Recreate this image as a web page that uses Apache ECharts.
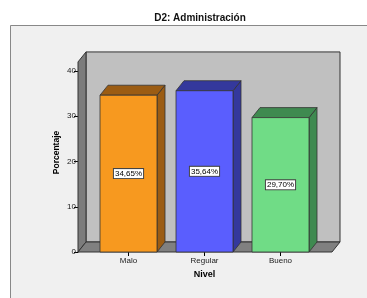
<!DOCTYPE html>
<html>
<head>
<meta charset="utf-8">
<script src="https://cdn.jsdelivr.net/npm/echarts@6/dist/echarts.min.js"></script>
<style>
  html, body { margin: 0; padding: 0; background: #fff; }
  #chart { width: 367px; height: 298px; }
</style>
</head>
<body>
<div id="chart"></div>
<script>
const categories = ["Malo", "Regular", "Bueno"]
const values = [34.65, 35.64, 29.7]
const valueLabels = ["34,65%", "35,64%", "29,70%"]
const yTicks = [0, 10, 20, 30, 40]

// front / dark face colours for each bar
const frontColors = ["#f7991f", "#5a5efe", "#70dc86"]
const sideColors = ["#9b5c13", "#34389c", "#3f8a50"]

const DX = 8   // depth offset
const DY = 10
const BAR_W = 57
const WALL_TOP = 42
const FONT = "'Liberation Sans', Arial, sans-serif"

const chart = echarts.init(document.getElementById("chart"), null, { renderer: "canvas" })

function renderWalls(params, api) {
  const cs = params.coordSys
  const L = cs.x - 12.5
  const R = cs.x + cs.width + 13.5
  const base = cs.y + cs.height
  const top = cs.y - (WALL_TOP - yTicks[yTicks.length - 1]) * cs.height / yTicks[yTicks.length - 1]
  const edge = { stroke: "#333", lineWidth: 1 }
  return {
    type: "group",
    children: [
      {
        type: "rect",
        shape: { x: L + DX, y: top - DY, width: R - L, height: base - top },
        style: Object.assign({ fill: "#c0c0c0" }, edge),
      },
      {
        type: "polygon",
        shape: { points: [[L, top], [L + DX, top - DY], [L + DX, base - DY], [L, base]] },
        style: Object.assign({ fill: "#7c7c7c" }, edge),
      },
      {
        type: "polygon",
        shape: { points: [[L, base], [L + DX, base - DY], [R + DX, base - DY], [R, base]] },
        style: Object.assign({ fill: "#808080" }, edge),
      },
    ],
  }
}

function renderBar(params, api) {
  const i = api.value(0)
  const v = api.value(1)
  const topPt = api.coord([i, v])
  const basePt = api.coord([i, 0])
  const x0 = topPt[0] - BAR_W / 2
  const x1 = topPt[0] + BAR_W / 2
  const yt = topPt[1]
  const yb = basePt[1]
  const edge = { stroke: "#333", lineWidth: 0.8 }
  return {
    type: "group",
    children: [
      {
        type: "polygon",
        shape: { points: [[x1, yt], [x1 + DX, yt - DY], [x1 + DX, yb - DY], [x1, yb]] },
        style: Object.assign({ fill: sideColors[i] }, edge),
      },
      {
        type: "polygon",
        shape: { points: [[x0, yt], [x0 + DX, yt - DY], [x1 + DX, yt - DY], [x1, yt]] },
        style: Object.assign({ fill: sideColors[i] }, edge),
      },
      {
        type: "rect",
        shape: { x: x0, y: yt, width: BAR_W, height: yb - yt },
        style: Object.assign({ fill: frontColors[i] }, edge),
      },
      {
        type: "text",
        x: topPt[0],
        y: (yt + yb) / 2,
        style: {
          text: valueLabels[i],
          align: "center",
          verticalAlign: "middle",
          fontSize: 8,
          fontFamily: FONT,
          fill: "#000",
          backgroundColor: "#fff",
          borderColor: "#444",
          borderWidth: 1,
          padding: [1, 1, 0, 1],
        },
      },
    ],
  }
}

const option = {
  animation: false,
  backgroundColor: "#fff",
  title: {
    text: "D2: Administración",
    left: 195,
    textAlign: "center",
    top: 8,
    textStyle: { fontSize: 10, fontWeight: "bold", fontFamily: FONT, color: "#111" },
  },
  graphic: [
    {
      type: "rect",
      z: -10,
      shape: { x: 10.5, y: 25.5, width: 400, height: 300 },
      style: { fill: "#f0f0f0", stroke: "#888", lineWidth: 1 },
    },
  ],
  grid: { left: 90.5, right: 48.5, top: 71, bottom: 46 },
  xAxis: {
    type: "category",
    data: categories,
    name: "Nivel",
    nameLocation: "middle",
    nameGap: 17,
    nameTextStyle: { fontSize: 9, fontWeight: "bold", fontFamily: FONT, color: "#000" },
    axisLine: { show: false },
    axisTick: { show: true, alignWithLabel: true, length: 4, lineStyle: { color: "#000" } },
    axisLabel: { fontSize: 8, fontFamily: FONT, color: "#222", margin: 5 },
    splitLine: { show: false },
  },
  yAxis: {
    type: "value",
    min: yTicks[0],
    max: yTicks[yTicks.length - 1],
    interval: 10,
    offset: 12.5,
    name: "Porcentaje",
    nameLocation: "middle",
    nameGap: 17,
    nameMoveOverlap: false,
    nameTextStyle: { fontSize: 8.5, fontWeight: "bold", fontFamily: FONT, color: "#000", padding: [0, 0, 0, 18] },
    axisLine: { show: true, lineStyle: { color: "#000" } },
    axisTick: { show: true, length: 4, lineStyle: { color: "#000" } },
    axisLabel: { fontSize: 8, fontFamily: FONT, color: "#222", margin: 2 },
    splitLine: { show: false },
  },
  series: [
    {
      type: "custom",
      z: 1,
      clip: false,
      renderItem: renderWalls,
      data: [[0, 0]],
      silent: true,
    },
    {
      type: "custom",
      z: 2,
      clip: false,
      renderItem: renderBar,
      data: values.map((v, i) => [i, v]),
    },
  ],
}

chart.setOption(option)
</script>
</body>
</html>
